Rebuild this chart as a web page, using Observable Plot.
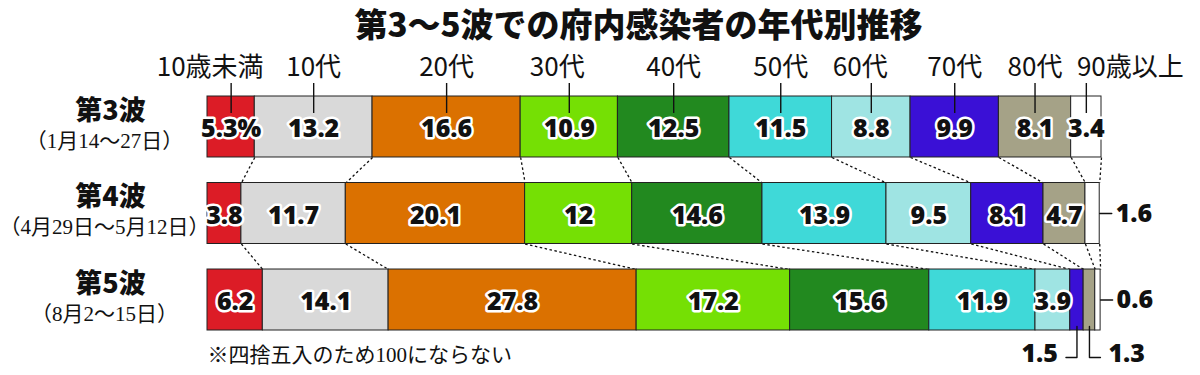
<!DOCTYPE html>
<html><head><meta charset="utf-8">
<script src="https://cdn.jsdelivr.net/npm/d3@7"></script>
<script src="https://cdn.jsdelivr.net/npm/@observablehq/plot@0.6"></script>
<style>body{margin:0;background:#fff}</style>
</head><body><div id="chart"></div>
<script>
const title = "第3〜5波での府内感染者の年代別推移";
const ages = ["10歳未満","10代","20代","30代","40代","50代","60代","70代","80代","90歳以上"];
const colors = ["#dc1c26","#d9d9d9","#db7100","#75e004","#22891f","#3fd9d8","#9fe4e3","#3a10d6","#a5a287","#ffffff"];
const waves = ["第3波","第4波","第5波"];
const periods = ["（1月14〜27日）","（4月29日〜5月12日）","（8月2〜15日）"];
const wave3Values = [5.3,13.2,16.6,10.9,12.5,11.5,8.8,9.9,8.1,3.4];
const wave4Values = [3.8,11.7,20.1,12,14.6,13.9,9.5,8.1,4.7,1.6];
const wave5Values = [6.2,14.1,27.8,17.2,15.6,11.9,3.9,1.5,1.3,0.6];
const note = "※四捨五入のため100にならない";

// layout
const X0 = 207, X1 = 1101, XMAX = 100.2;
const Y0 = 96, Y1 = 330, BAR = 0.705, YMAX = 2 + BAR;
const ux = XMAX / (X1 - X0), uy = YMAX / (Y1 - Y0);
const labelShift = {"10歳未満": -21, "30代": -12, "60代": -11, "90歳以上": 44};
const SANS = "'Noto Sans CJK JP', 'Noto Sans', sans-serif";
const SERIF = "'Liberation Serif', 'Noto Sans CJK JP', serif";
const NUM = "'Open Sans', 'Noto Sans', sans-serif";

const series = [wave3Values, wave4Values, wave5Values];
const segs = [];
series.forEach((vals, w) => {
  let c = 0;
  vals.forEach((v, k) => {
    segs.push({w, k, age: ages[k], v, x1: c, x2: c + v, mid: c + v / 2});
    c += v;
  });
});
const segOf = (w, k) => segs.find(d => d.w === w && d.k === k);

// connectors
const links = [];
for (let w = 0; w < 2; w++) {
  for (let k = 0; k < ages.length; k++) {
    links.push({x1: segOf(w, k).x2, y1: w + BAR, x2: segOf(w + 1, k).x2, y2: w + 1});
  }
}

const inside = segs.filter(d => d.v >= 2);
const small = segs.filter(d => d.v < 2);
const leaderLines = [];
const outsideText = [];
series.forEach((vals, w) => {
  const sm = small.filter(d => d.w === w);
  let side = -1;
  sm.forEach(d => {
    const yc = w + BAR / 2;
    if (d.k === ages.length - 1) {
      leaderLines.push({id: `${w}-${d.k}`, pts: [[d.x2, yc], [d.x2 + 12 * ux, yc]]});
      outsideText.push({x: d.x2 + 16 * ux, y: yc, t: String(d.v), anchor: "start"});
    } else {
      const yb = w + BAR + 27 * uy;
      leaderLines.push({id: `${w}-${d.k}`, pts: [[d.mid, w + BAR - 4 * uy], [d.mid, yb], [d.mid + side * 11 * ux, yb]]});
      outsideText.push({x: d.mid + side * 19 * ux, y: yb - 4 * uy, t: String(d.v), anchor: side < 0 ? "end" : "start"});
      side = -side;
    }
  });
});
const leaderPts = leaderLines.flatMap(l => l.pts.map(p => ({id: l.id, x: p[0], y: p[1]})));

const topRow = segs.filter(d => d.w === 0);
const numStyle = {fontSize: 25, fontWeight: 800, fontFamily: NUM, fill: "#111"};

const chart = Plot.plot({
  width: 1200, height: 375,
  marginLeft: X0, marginRight: 1200 - X1, marginTop: Y0, marginBottom: 375 - Y1,
  x: {domain: [0, XMAX], range: [X0, X1], axis: null},
  y: {domain: [0, YMAX], range: [Y0, Y1], axis: null},
  color: {domain: ages, range: colors},
  style: {background: "white", fontFamily: SANS},
  marks: [
    Plot.link(links, {x1: "x1", y1: "y1", x2: "x2", y2: "y2", stroke: "#111", strokeWidth: 1.3, strokeDasharray: "2.5,2.5"}),
    Plot.rect(segs, {x1: "x1", x2: "x2", y1: d => d.w, y2: d => d.w + BAR, fill: "age", stroke: "#222", strokeWidth: 1}),
    Plot.ruleX(topRow, {x: "mid", y1: () => -13 * uy, y2: () => 17 * uy, stroke: "#111", strokeWidth: 1.4}),
    Plot.text(topRow, {x: d => d.mid + (labelShift[d.age] || 0) * ux, y: () => 0, dy: -29, text: "age", fontSize: 26, fontFamily: SANS, fill: "#111"}),
    Plot.text(inside, {x: "mid", y: d => d.w + BAR / 2, dy: 2, text: d => (d.w === 0 && d.k === 0) ? d.v + "%" : String(d.v),
      ...numStyle, stroke: "white", strokeWidth: 5, strokeLinejoin: "round", paintOrder: "stroke"}),
    Plot.line(leaderPts, {x: "x", y: "y", z: "id", stroke: "#111", strokeWidth: 1.4, curve: "linear"}),
    Plot.text(outsideText.filter(d => d.anchor === "start"), {x: "x", y: "y", text: "t", textAnchor: "start", ...numStyle}),
    Plot.text(outsideText.filter(d => d.anchor === "end"), {x: "x", y: "y", text: "t", textAnchor: "end", ...numStyle}),
    Plot.text(waves, {x: () => 0, y: (d, i) => i + BAR / 2, dx: -97, dy: -16, text: d => d, fontSize: 27, fontWeight: 900, fontFamily: SANS, fill: "#111"}),
    Plot.text(periods, {x: () => 0, y: (d, i) => i + BAR / 2, dx: -103, dy: 14, text: d => d, fontSize: 21, fontFamily: SERIF, fill: "#111"}),
    Plot.text([note], {x: () => 0, y: () => YMAX, dy: 25, text: d => d, textAnchor: "start", fontSize: 21, fontFamily: SERIF, fill: "#111"}),
    Plot.text([title], {frameAnchor: "top", lineAnchor: "middle", dx: -16, dy: -70, text: d => d, fontSize: 33, fontWeight: 900, fontFamily: SANS, fill: "#111"})
  ]
});
document.getElementById("chart").appendChild(chart);
</script>
</body></html>
